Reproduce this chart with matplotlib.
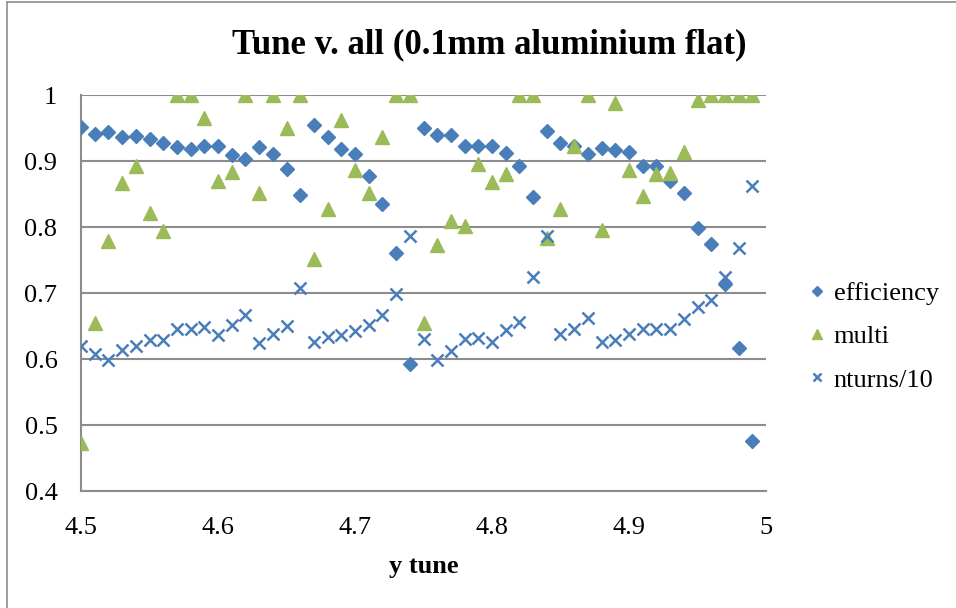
import matplotlib.pyplot as plt
from matplotlib.patches import Rectangle

# y tune values
tune = [4.50, 4.51, 4.52, 4.53, 4.54, 4.55, 4.56, 4.57, 4.58, 4.59,
        4.60, 4.61, 4.62, 4.63, 4.64, 4.65, 4.66, 4.67, 4.68, 4.69,
        4.70, 4.71, 4.72, 4.73, 4.74, 4.75, 4.76, 4.77, 4.78, 4.79,
        4.80, 4.81, 4.82, 4.83, 4.84, 4.85, 4.86, 4.87, 4.88, 4.89,
        4.90, 4.91, 4.92, 4.93, 4.94, 4.95, 4.96, 4.97, 4.98, 4.99]

efficiency = [0.951, 0.941, 0.944, 0.936, 0.938, 0.933, 0.928, 0.921, 0.918, 0.922,
              0.922, 0.909, 0.903, 0.921, 0.910, 0.888, 0.848, 0.955, 0.937, 0.918,
              0.910, 0.877, 0.835, 0.761, 0.593, 0.950, 0.940, 0.939, 0.922, 0.923,
              0.923, 0.912, 0.893, 0.845, 0.945, 0.928, 0.923, 0.910, 0.920, 0.916,
              0.913, 0.892, 0.893, 0.870, 0.852, 0.799, 0.775, 0.713, 0.617, 0.476]

multi = [0.472, 0.654, 0.779, 0.866, 0.892, 0.821, 0.794, 1.0, 1.0, 0.965,
         0.870, 0.883, 1.0, 0.851, 1.0, 0.950, 1.0, 0.752, 0.827, 0.962,
         0.886, 0.852, 0.936, 1.0, 1.0, 0.655, 0.773, 0.809, 0.802, 0.896,
         0.868, 0.880, 1.0, 1.0, 0.784, 0.827, 0.923, 1.0, 0.795, 0.988,
         0.886, 0.847, 0.881, 0.882, 0.913, 0.993, 1.0, 1.0, 1.0, 1.0]

nturns10 = [0.620, 0.607, 0.598, 0.614, 0.620, 0.629, 0.629, 0.645, 0.645, 0.649,
            0.636, 0.652, 0.666, 0.625, 0.638, 0.650, 0.707, 0.626, 0.633, 0.637,
            0.643, 0.652, 0.666, 0.698, 0.787, 0.630, 0.599, 0.612, 0.631, 0.632,
            0.626, 0.644, 0.656, 0.725, 0.786, 0.638, 0.646, 0.662, 0.626, 0.629,
            0.638, 0.645, 0.646, 0.646, 0.660, 0.679, 0.690, 0.725, 0.768, 0.862]

plt.rcParams['font.family'] = ['Liberation Serif', 'DejaVu Serif']

fig = plt.figure(figsize=(9.56, 6.08), dpi=100)
fig.patches.append(Rectangle((7 / 956, -0.1), 1.2, 1.1 - 2 / 608, transform=fig.transFigure,
                             fill=False, edgecolor='#8c8c8c', linewidth=1.2))
ax = fig.add_axes([81 / 956, 1 - 491 / 608, (766 - 81) / 956, (491 - 95) / 608])

ax.plot(tune, efficiency, linestyle='none', marker='D', markersize=7.5,
        color='#4a7ebb', label='efficiency', zorder=3)
ax.plot(tune, multi, linestyle='none', marker='^', markersize=10,
        color='#9bbb59', label='multi', zorder=3)
ax.plot(tune, nturns10, linestyle='none', marker='x', markersize=8.5, markeredgewidth=1.8,
        color='#4a7ebb', label='nturns/10', zorder=3)

ax.set_xlim(4.5, 5)
ax.set_ylim(0.4, 1)
ax.set_xticks([4.5, 4.6, 4.7, 4.8, 4.9, 5])
ax.set_xticklabels(['4.5', '4.6', '4.7', '4.8', '4.9', '5'])
ax.set_yticks([0.4, 0.5, 0.6, 0.7, 0.8, 0.9, 1])
ax.set_yticklabels(['0.4', '0.5', '0.6', '0.7', '0.8', '0.9', '1'])
ax.grid(axis='y', color='#8c8c8c', linewidth=1.5)
ax.set_axisbelow(True)
ax.tick_params(length=0, labelsize=19)
ax.tick_params(axis='x', pad=19)
ax.tick_params(axis='y', pad=17)
for side in ['top', 'right']:
    ax.spines[side].set_visible(False)
for side in ['left', 'bottom']:
    ax.spines[side].set_color('#8c8c8c')
    ax.spines[side].set_linewidth(1.5)

ax.set_xlabel('y tune', fontsize=19, fontweight='bold', labelpad=11)
fig.text(0.512, 1 - 45 / 608, 'Tune v. all (0.1mm aluminium flat)', ha='center', va='center',
         fontsize=25, fontweight='bold')

ax.legend(loc='center left', bbox_to_anchor=(1.02, 0.39), frameon=False, fontsize=19,
          handletextpad=0.15, labelspacing=0.75, markerscale=0.7, handlelength=1.0)

fig.savefig('out.png', dpi=100)
